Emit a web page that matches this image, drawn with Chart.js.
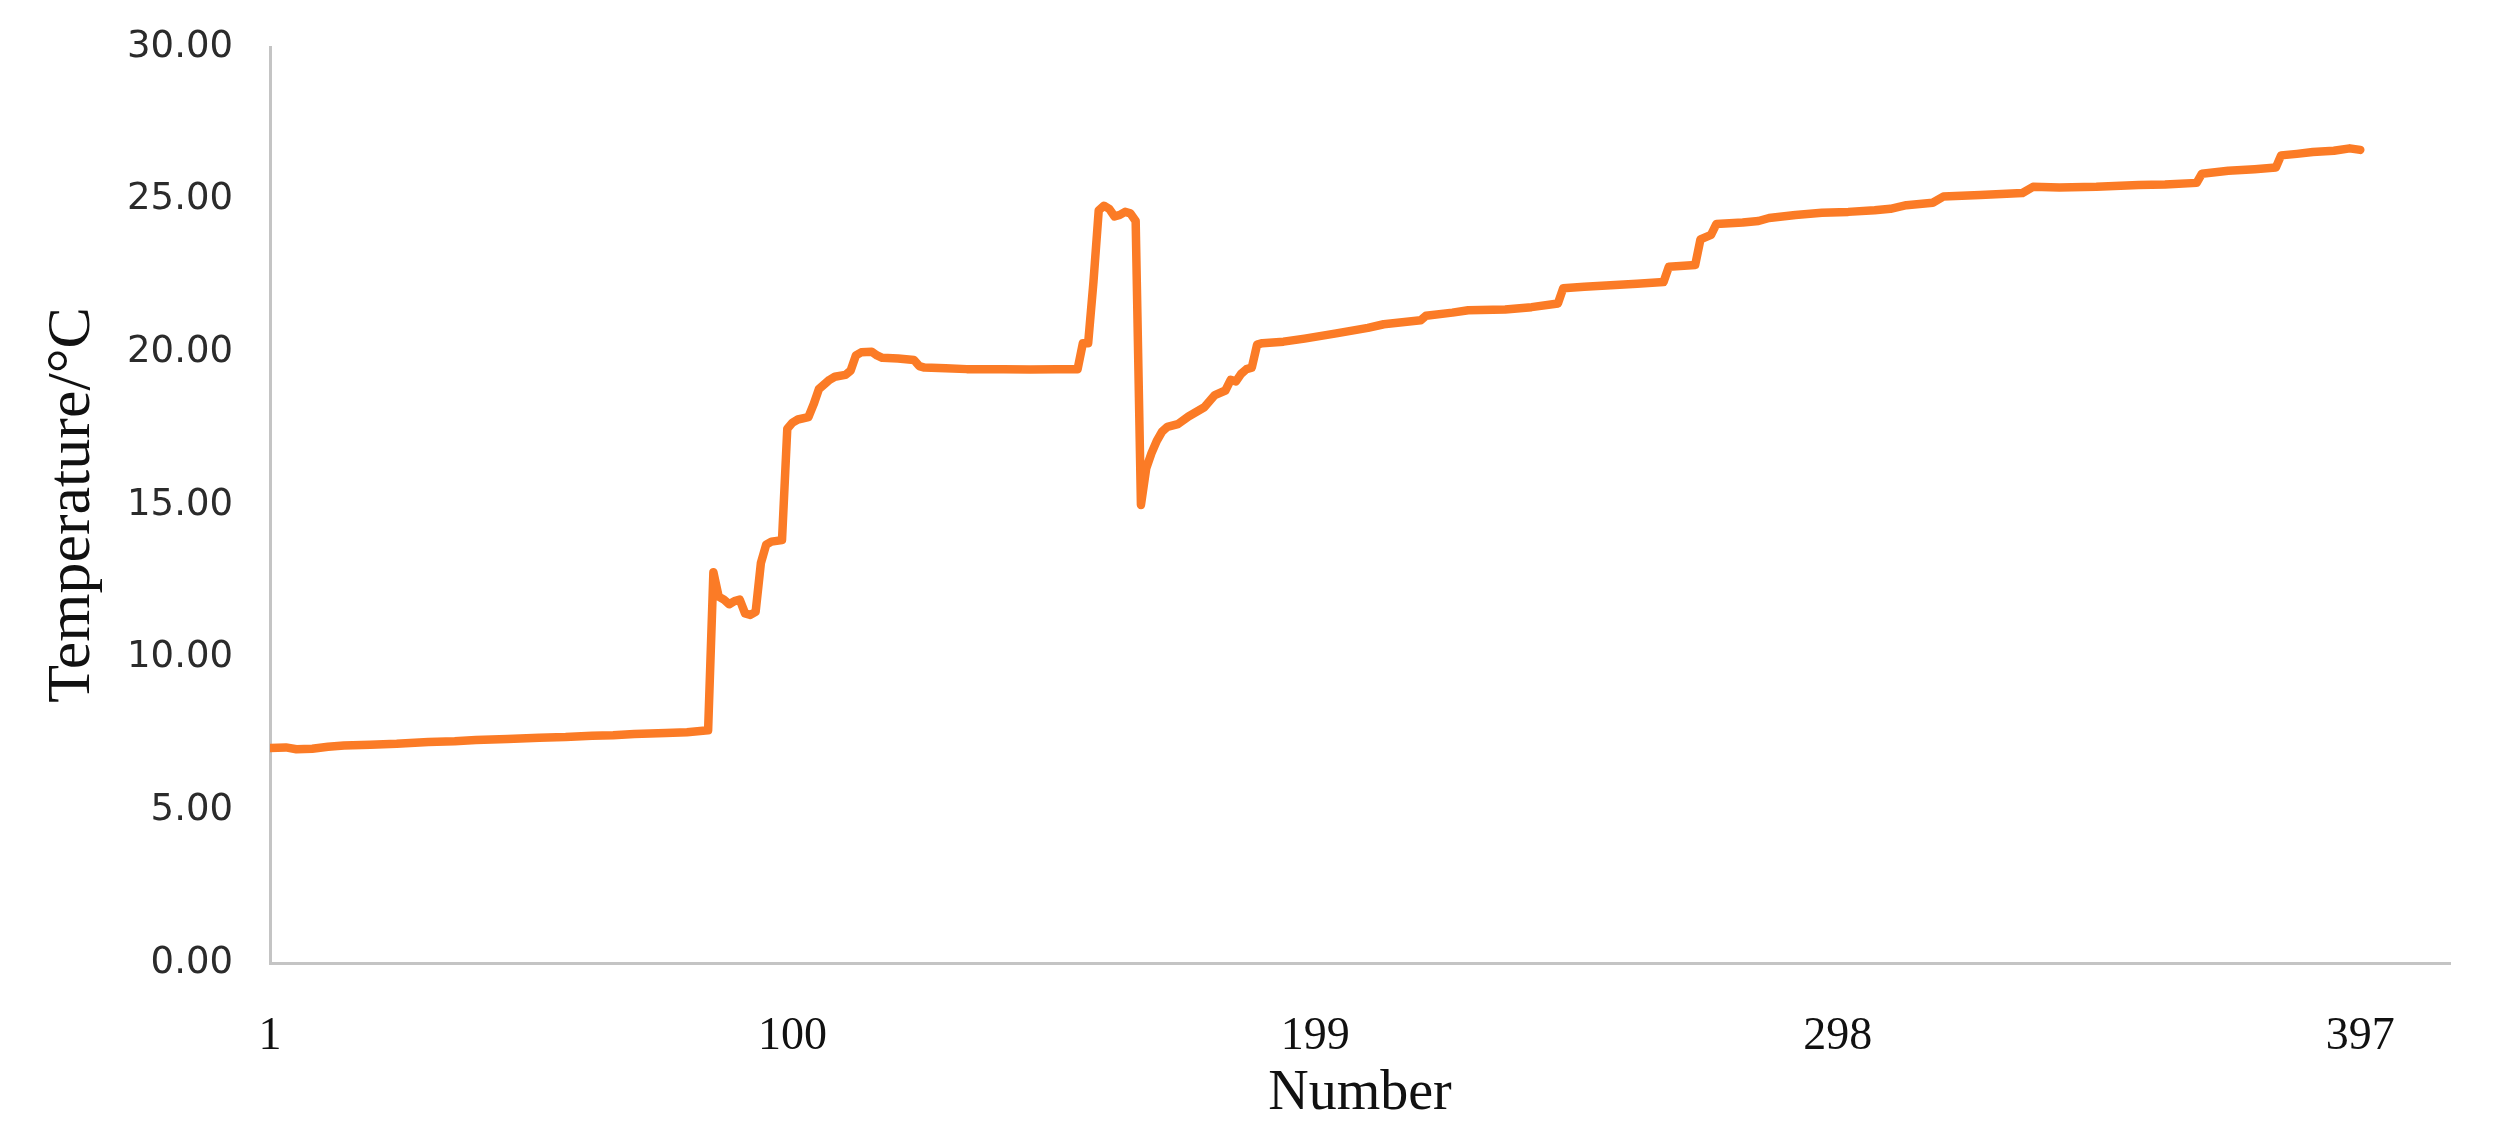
<!DOCTYPE html>
<html>
<head>
<meta charset="utf-8">
<title>Temperature by sample number</title>
<script src="https://cdn.jsdelivr.net/npm/chart.js@4.4.1/dist/chart.umd.min.js"></script>
<style>
  html, body { margin: 0; padding: 0; background: #fff; }
  #wrap { width: 2493px; height: 1147px; position: relative; }
</style>
</head>
<body>
<div id="wrap"><canvas id="chart"></canvas></div>
<script>
// Sample numbers and temperatures (vertices)
var sampleNo = [
  1, 4, 6, 9, 12, 15, 20, 25, 31, 36, 40, 46, 52, 57, 62, 66, 70, 76, 80, 84,
  85, 86, 87, 88, 89, 90, 91, 92, 93, 94, 95, 96, 98,
  99, 100, 101, 103, 104, 105, 107, 108, 110, 111, 112, 113, 115, 116, 117, 120, 123, 124, 125, 129, 133, 140, 145, 150, 154,
  155, 156, 157, 158, 159, 160, 161, 162, 163, 164, 165,
  166, 167, 168, 169, 170, 171, 173, 175, 178, 180, 182, 183, 184, 185, 186, 187,
  188, 189, 193, 197, 203, 209, 212, 219, 220, 225, 228, 235, 240, 245,
  246, 250, 255, 260, 265, 266, 271, 272, 274, 275, 280, 283, 285, 290, 295, 300, 305, 308, 311, 316,
  318, 325, 333, 335, 340, 347, 355, 360, 366, 367, 372, 377, 381, 382, 385, 388, 392, 395, 397
];
var temperature = [
  7.04, 7.06, 7.00, 7.02, 7.08, 7.12, 7.15, 7.18, 7.24, 7.26, 7.30, 7.34, 7.38, 7.40, 7.44, 7.46, 7.50, 7.53, 7.56, 7.62,
  12.80, 12.00, 11.90, 11.75, 11.85, 11.90, 11.45, 11.40, 11.50, 13.10, 13.70, 13.80, 13.85,
  17.50, 17.70, 17.80, 17.88, 18.30, 18.80, 19.10, 19.20, 19.26, 19.40, 19.90, 20.00, 20.02, 19.90, 19.82, 19.80, 19.75, 19.55, 19.50, 19.48, 19.45, 19.45, 19.44, 19.45, 19.45,
  20.30, 20.30, 22.30, 24.65, 24.80, 24.70, 24.45, 24.50, 24.60, 24.55, 24.30,
  15.00, 16.20, 16.70, 17.10, 17.40, 17.56, 17.65, 17.90, 18.20, 18.60, 18.75, 19.10, 19.05, 19.30, 19.45, 19.50,
  20.25, 20.30, 20.35, 20.45, 20.62, 20.80, 20.92, 21.05, 21.20, 21.30, 21.38, 21.40, 21.48, 21.60,
  22.10, 22.15, 22.20, 22.25, 22.30, 22.80, 22.86, 23.70, 23.85, 24.20, 24.25, 24.30, 24.40, 24.50, 24.57, 24.60, 24.65, 24.70, 24.82, 24.90,
  25.10, 25.15, 25.22, 25.42, 25.40, 25.42, 25.48, 25.50, 25.55, 25.85, 25.95, 26.00, 26.05, 26.45, 26.50, 26.56, 26.60, 26.68, 26.63
];
var xTicks = [1, 100, 199, 298, 397];
var xMax = 414;
var yTicks = [0, 5, 10, 15, 20, 25, 30];

var LINE_COLOR = '#fb7b26';
var AXIS_COLOR = '#c4c4c4';
var SERIF = '"Liberation Serif", "Times New Roman", serif';

var points = sampleNo.map(function (n, i) { return { x: n, y: temperature[i] }; });

new Chart(document.getElementById('chart'), {
  type: 'line',
  data: {
    datasets: [{
      label: 'Temperature',
      data: points,
      borderColor: LINE_COLOR,
      backgroundColor: LINE_COLOR,
      borderWidth: 8.5,
      borderJoinStyle: 'round',
      borderCapStyle: 'round',
      pointRadius: 0,
      tension: 0,
      fill: false,
    }],
  },
  options: {
    responsive: true,
    maintainAspectRatio: false,
    animation: false,
    layout: { padding: { left: 0, right: 43, top: 47, bottom: 0 } },
    plugins: {
      legend: { display: false },
      tooltip: { enabled: false },
    },
    scales: {
      x: {
        type: 'linear',
        min: 1,
        max: xMax,
        afterBuildTicks: function (scale) {
          scale.ticks = xTicks.map(function (v) { return { value: v }; });
        },
        afterFit: function (scale) {
          scale.height = 184;
          scale.paddingLeft = 0;
          scale.paddingRight = 0;
        },
        grid: { display: false },
        border: { display: true, color: AXIS_COLOR, width: 3 },
        ticks: {
          color: '#111',
          padding: 38,
          maxRotation: 0,
          autoSkip: false,
          font: { family: SERIF, size: 46 },
          callback: function (v) { return String(v); },
        },
        title: {
          display: true,
          text: 'Number',
          color: '#111',
          padding: { top: 0, bottom: 19 },
          font: { family: SERIF, size: 56, lineHeight: 1.2 },
        },
      },
      y: {
        min: 0,
        max: 30,
        afterBuildTicks: function (scale) {
          scale.ticks = yTicks.map(function (v) { return { value: v }; });
        },
        afterFit: function (scale) {
          scale.width = 270;
          scale.paddingTop = 0;
          scale.paddingBottom = 0;
        },
        grid: { display: false },
        border: { display: true, color: AXIS_COLOR, width: 3 },
        ticks: {
          color: '#2b2b2b',
          padding: 29,
          font: { family: '"DejaVu Sans", sans-serif', size: 37 },
          callback: function (v) { return Number(v).toFixed(2); },
        },
        title: {
          display: true,
          text: 'Temperature/°C',
          color: '#111',
          padding: { top: 36, bottom: 0 },
          font: { family: SERIF, size: 62, lineHeight: 1.2 },
        },
      },
    },
  },
});
</script>
</body>
</html>
